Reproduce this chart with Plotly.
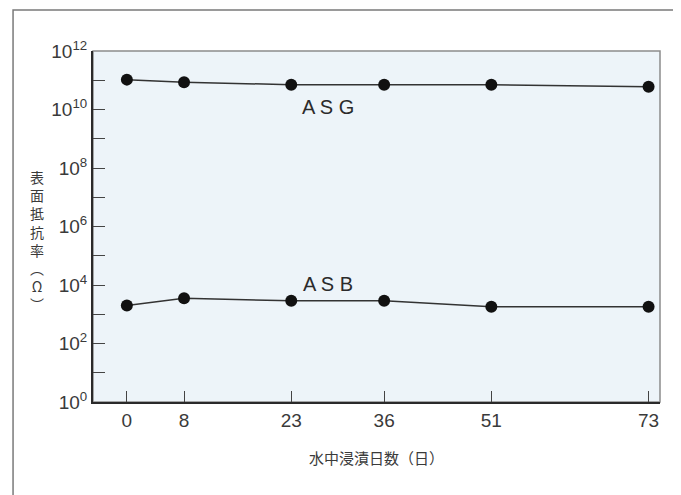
import plotly.graph_objects as go

# ===== data =====
days = [0, 8, 23, 36, 51, 73]
asg = [1.05e11, 8.6e10, 7.0e10, 7.0e10, 7.0e10, 6.0e10]
asb = [2.0e3, 3.5e3, 2.9e3, 2.9e3, 1.8e3, 1.8e3]

series_labels = ["A S G", "A S B"]
y_exponents = list(range(0, 13))
x_title = "水中浸漬日数（日）"
y_title_chars = ["表", "面", "抵", "抗", "率", "︵", "Ω", "︶"]

tick_font = "Liberation Sans Narrow, Arial Narrow, Liberation Sans, Arial, sans-serif"
cjk_font = "Noto Sans CJK JP, Noto Sans CJK SC, sans-serif"
ink = "#2b2b2b"

fig = go.Figure()

for vals in [asg, asb]:
    fig.add_trace(go.Scatter(
        x=days, y=vals, mode="lines+markers",
        line=dict(color="#333333", width=1.5),
        marker=dict(color="#111111", size=12),
        showlegend=False, hoverinfo="x+y"
    ))

# series labels
fig.add_annotation(x=28.1, y=10.08, text=series_labels[0], showarrow=False,
                   font=dict(family="Liberation Sans, Arial, sans-serif", size=20, color=ink))
fig.add_annotation(x=28.1, y=4.05, text=series_labels[1], showarrow=False,
                   font=dict(family="Liberation Sans, Arial, sans-serif", size=20, color=ink))

# axis titles
fig.add_annotation(xref="paper", yref="paper", x=0.5, y=-0.157, text=x_title,
                   showarrow=False, yanchor="middle",
                   font=dict(family=cjk_font, size=15, color="#3a3a3a"))
fig.add_annotation(xref="paper", yref="paper", x=-0.114, y=0.46, text="<br>".join(y_title_chars),
                   showarrow=False, yanchor="middle", align="center",
                   font=dict(family=cjk_font, size=14, color="#3a3a3a"))

# outer frame and light plot border
fig.add_shape(type="rect", xref="paper", yref="paper", x0=-0.141, x1=1.0335, y0=-0.35, y1=1.1168,
              line=dict(color="#7a7a7a", width=1.5), layer="below")
fig.add_shape(type="rect", xref="paper", yref="paper", x0=0, x1=1, y0=0, y1=1,
              line=dict(color="#8c8c8c", width=1.5), layer="below")

# the page body adds an 8px offset, so margins are shifted to compensate
fig.update_layout(
    width=681, height=495,
    margin=dict(l=85, r=29, t=43, b=101),
    paper_bgcolor="white",
    plot_bgcolor="#edf4f9",
)

fig.update_xaxes(
    range=[-4.74, 74.6], tickvals=days, ticktext=[str(d) for d in days],
    ticks="inside", ticklen=11, tickwidth=1, tickcolor="#444444",
    showgrid=False, zeroline=False, showline=True, linecolor="#2a2a2a", linewidth=2,
    tickfont=dict(family=tick_font, size=19, color="#3a3a3a"),
)
fig.update_yaxes(
    type="log", range=[0, 12],
    tickvals=[10 ** k for k in y_exponents],
    ticktext=[f"10<sup>{k}</sup>" if k % 2 == 0 else "" for k in y_exponents],
    ticks="inside", ticklen=12, tickwidth=1, tickcolor="#444444",
    showgrid=False, zeroline=False, showline=True, linecolor="#2a2a2a", linewidth=2,
    tickfont=dict(family=tick_font, size=19, color="#3a3a3a"),
)

fig.write_html("out.html")
